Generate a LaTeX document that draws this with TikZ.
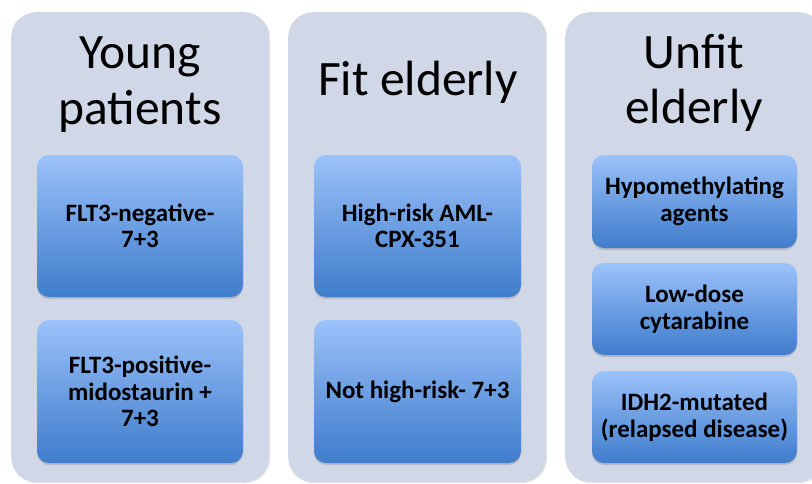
\documentclass[tikz,border=0pt]{standalone}
\usepackage{fontspec}
\setmainfont{Carlito}
\usetikzlibrary{shadows}
\definecolor{panelfill}{HTML}{D0D8E8}
\definecolor{boxtop}{HTML}{9CC2FA}
\definecolor{boxmid}{HTML}{6C9EE2}
\definecolor{boxbot}{HTML}{3F7DCB}
\tikzset{
  panel/.style={draw=none, fill=panelfill, rounded corners=25pt, anchor=north west,
    minimum width=258pt, minimum height=470pt, inner sep=0pt,
    drop shadow={opacity=0.18, shadow xshift=1pt, shadow yshift=-1pt}},
  titletext/.style={anchor=base, font=\fontsize{49.5}{56}\selectfont, text=black, inner sep=0pt},
  tbox/.style={draw=none, rounded corners=12pt, top color=boxtop, bottom color=boxbot,
    middle color=boxmid, inner sep=2pt, align=center, text=black,
    font=\bfseries\fontsize{25}{26.5}\selectfont,
    drop shadow={opacity=0.35, shadow xshift=0pt, shadow yshift=-2pt}},
}
\begin{document}
\begin{tikzpicture}[x=1pt,y=-1pt]
\useasboundingbox (0,0) rectangle (812,483);
\clip (0,0) rectangle (812,483);
\fill[white] (0,0) rectangle (812,483);
% panels
\node[panel] (p1) at (11,12) {};
\node[panel] (p2) at (288,12) {};
\node[panel] (p3) at (565,12) {};
% titles
\node[titletext] (t1a) at (140,68) {Young};
\node[titletext] (t1b) at (140,124) {patients};
\node[titletext] (t2) at (418,95) {Fit elderly};
\node[titletext] (t3a) at (694,68) {Unfit};
\node[titletext] (t3b) at (694,123) {elderly};
% boxes column 1
\node[tbox, minimum width=206pt, minimum height=142pt] (b11) at (140,226) {FLT3-negative-\\7+3};
\node[tbox, minimum width=206pt, minimum height=143pt] (b12) at (140,391.5) {FLT3-positive-\\midostaurin +\\7+3};
% column 2
\node[tbox, minimum width=207pt, minimum height=142pt] (b21) at (417.5,226) {High-risk AML-\\CPX-351};
\node[tbox, minimum width=207pt, minimum height=143pt] (b22) at (417.5,391.5) {Not high-risk- 7+3};
% column 3
\node[tbox, minimum width=205pt, minimum height=93pt] (b31) at (694.5,201.5) {Hypomethylating\\agents};
\node[tbox, minimum width=205pt, minimum height=92pt] (b32) at (694.5,309) {Low-dose\\cytarabine};
\node[tbox, minimum width=205pt, minimum height=92pt] (b33) at (694.5,417) {IDH2-mutated\\(relapsed disease)};
\end{tikzpicture}
\end{document}
